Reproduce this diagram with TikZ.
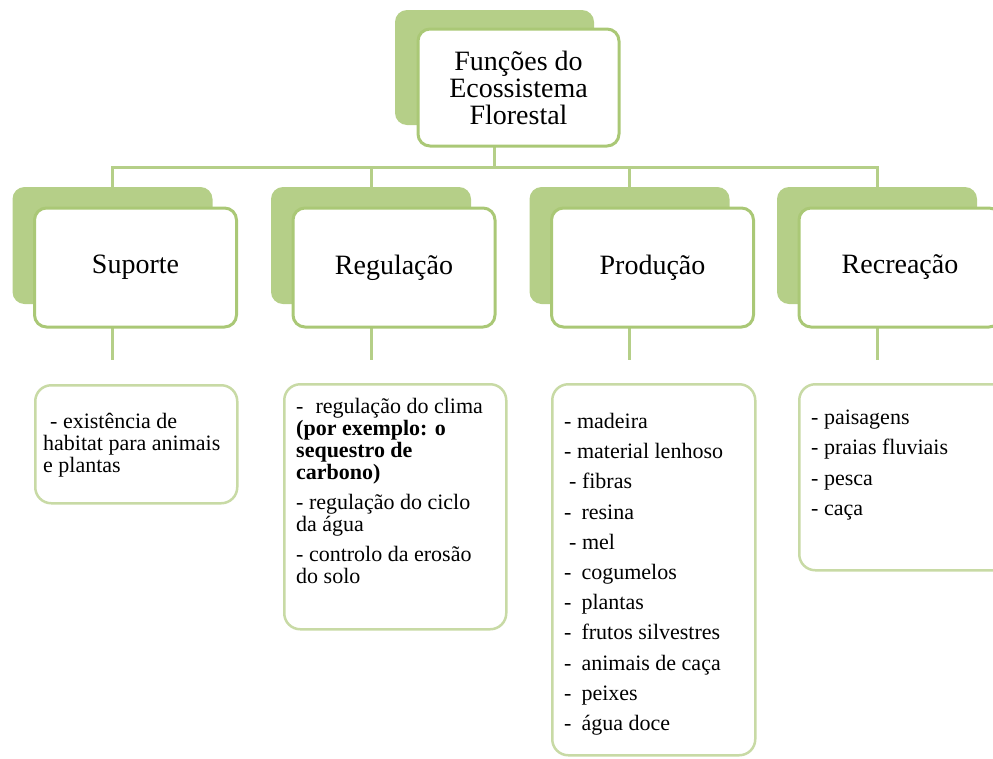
\documentclass[tikz,border=0pt]{standalone}
\usepackage{fontspec}
\setmainfont{Liberation Serif}
\usetikzlibrary{backgrounds}
\definecolor{leafback}{RGB}{181,207,136}
\definecolor{leafline}{RGB}{170,200,118}
\definecolor{leaflink}{RGB}{181,207,136}
\definecolor{leaflist}{RGB}{200,218,165}
\begin{document}
\begin{tikzpicture}[x=1pt,y=-1pt,
  back/.style={fill=leafback,rounded corners=12pt,minimum width=200pt,minimum height=117pt,inner sep=0pt},
  front/.style={draw=leafline,line width=3pt,fill=white,rounded corners=12pt,minimum width=202pt,minimum height=119pt,
    inner sep=0pt,align=center,font=\fontsize{28}{27}\selectfont},
  listbox/.style={draw=leaflist,line width=2.5pt,fill=white,rounded corners=16pt,anchor=north west,inner sep=0pt},
  listtext/.style={anchor=north west,align=left,inner sep=0pt,font=\fontsize{22}{22}\selectfont},
  link/.style={draw=leaflink,line width=3pt}]
\useasboundingbox (0,0) rectangle (993,758);
\clip (0,0) rectangle (993,758);
% top box
\node[back,minimum width=199pt,minimum height=115pt] (topS) at (494.5,67.5) {};
\node[front,minimum width=201pt,minimum height=117pt] (top) at (518.5,87.5) {Funções do\\Ecossistema\\Florestal};
% second level
\node[back] (supS) at (112.5,245.5) {};
\node[front,xshift=23pt,yshift=-22pt] (sup) at (supS) {Suporte};
\node[back] (regS) at (371,245.5) {};
\node[front,xshift=23pt,yshift=-22pt] (reg) at (regS) {Regulação};
\node[back] (proS) at (629.5,245.5) {};
\node[front,xshift=23pt,yshift=-22pt] (pro) at (proS) {Produção};
\node[back] (recS) at (877,245.5) {};
\node[front,xshift=23pt,yshift=-22pt] (rec) at (recS) {Recreação};
% lists
\node[listbox,minimum width=202pt,minimum height=118pt] (supL) at (34,384) {};
\node[listtext] (supT) at ([shift={(9,29)}]supL.north west)
  {\hspace*{7pt}- existência de\\habitat para animais\\e plantas};
\node[listbox,minimum width=222pt,minimum height=245pt] (regL) at (283,383) {};
\node[listtext] (regT) at ([shift={(13,15)}]regL.north west)
  {-\hspace{12pt}regulação do clima\\
   \textbf{(por exemplo: o}\\
   \textbf{sequestro de}\\
   \textbf{carbono)}\\[8pt]
   - regulação do ciclo\\
   da água\\[8pt]
   - controlo da erosão\\
   do solo};
\node[listbox,minimum width=203pt,minimum height=371pt] (proL) at (551,383) {};
\node[listtext] (proT) at ([shift={(13,30)}]proL.north west)
  {- madeira\\[8.2pt]
   - material lenhoso\\[8.2pt]
   \hspace*{5pt}- fibras\\[8.2pt]
   -\hspace{10pt}resina\\[8.2pt]
   \hspace*{5pt}- mel\\[8.2pt]
   -\hspace{10pt}cogumelos\\[8.2pt]
   -\hspace{10pt}plantas\\[8.2pt]
   -\hspace{10pt}frutos silvestres\\[8.2pt]
   -\hspace{10pt}animais de caça\\[8.2pt]
   -\hspace{10pt}peixes\\[8.2pt]
   -\hspace{10pt}água doce};
\node[listbox,minimum width=210pt,minimum height=186pt] (recL) at (798,383) {};
\node[listtext] (recT) at ([shift={(13,27)}]recL.north west)
  {- paisagens\\[8.2pt]
   - praias fluviais\\[8.2pt]
   - pesca\\[8.2pt]
   - caça};
% connectors
\coordinate (bus) at (0,167);
\coordinate (drop) at (0,360);
\begin{scope}[on background layer]
\draw[link] (topS.center) -- (topS |- bus);
\draw[link] (supS.center) -- (supS |- bus) -- (recS |- bus) -- (recS.center);
\draw[link] (regS |- bus) -- (regS.center);
\draw[link] (proS |- bus) -- (proS.center);
\foreach \n in {sup,reg,pro,rec}
  \draw[link] (\n S.center) -- (\n S |- drop);
\end{scope}
\end{tikzpicture}
\end{document}
